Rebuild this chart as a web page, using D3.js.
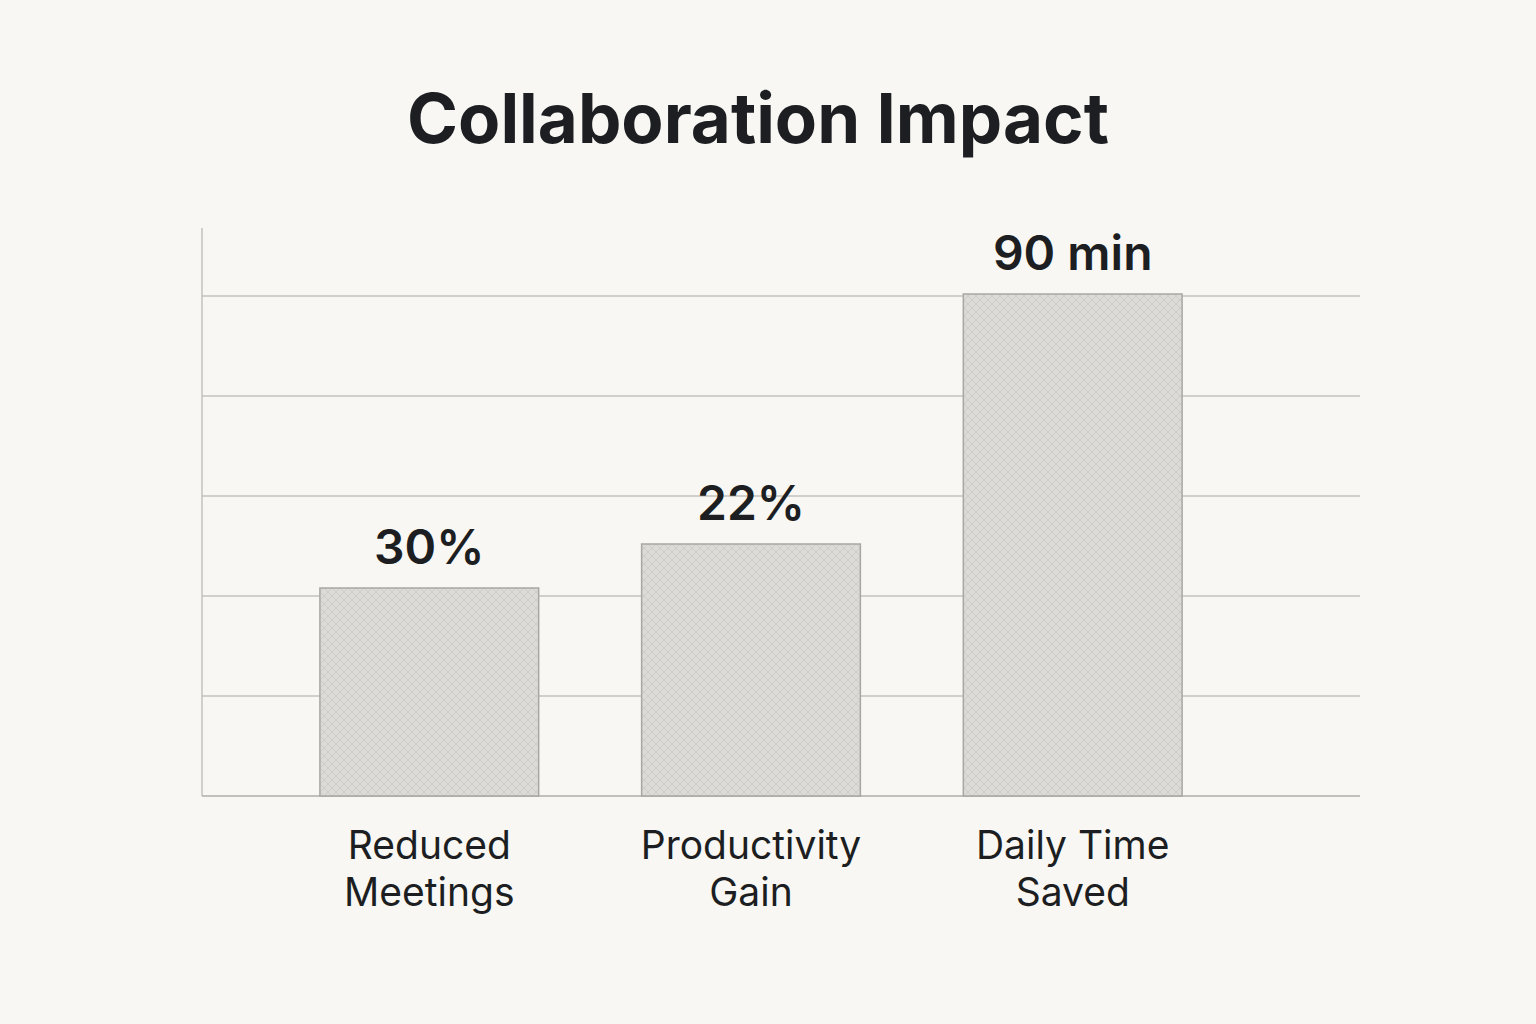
<!DOCTYPE html>
<html>
<head>
<meta charset="utf-8">
<script src="https://cdn.jsdelivr.net/npm/d3@7"></script>
<style>
  body { margin: 0; background: #f8f7f4; }
  svg { display: block; }
</style>
</head>
<body>
<div id="chart"></div>
<script>
// categories and values
const categories = [["Reduced", "Meetings"], ["Productivity", "Gain"], ["Daily Time", "Saved"]]
const valueLabels = ["30%", "22%", "90 min"]
// drawn bar heights in grid units (the picture does not scale them to the labels)
const barHeights = [2.08, 2.52, 5.02]
const gridTicks = [1, 2, 3, 4, 5]

const width = 1536, height = 1024
const svg = d3.select("#chart").append("svg")
    .attr("width", width).attr("height", height)
    .style("background", "#f8f7f4")

// crosshatch fill for the bars
const defs = svg.append("defs")
const pat = defs.append("pattern")
    .attr("id", "hatch").attr("patternUnits", "userSpaceOnUse")
    .attr("width", 8).attr("height", 8)
pat.append("rect").attr("width", 8).attr("height", 8).attr("fill", "#dddbd7")
pat.append("path").attr("d", "M0,0 L8,8 M8,0 L0,8")
    .attr("stroke", "#cfccc7").attr("stroke-width", 1)

const x = d3.scaleBand()
    .domain(d3.range(categories.length))
    .range([262, 1240])
    .paddingInner(0.32).paddingOuter(0.18)
const y = d3.scaleLinear().domain([0, 5.68]).range([796, 228])

// grid lines
svg.append("g")
    .selectAll("line")
    .data(gridTicks)
    .join("line")
    .attr("x1", 202).attr("x2", 1360)
    .attr("y1", d => y(d)).attr("y2", d => y(d))
    .attr("stroke", "#c4c2be").attr("stroke-width", 1.5)

// axes lines
svg.append("line").attr("x1", 202).attr("x2", 202).attr("y1", y.range()[1]).attr("y2", y(0))
    .attr("stroke", "#c4c2be").attr("stroke-width", 1.5)
svg.append("line").attr("x1", 202).attr("x2", 1360).attr("y1", y(0)).attr("y2", y(0))
    .attr("stroke", "#b0aeaa").attr("stroke-width", 1.5)

svg.append("g")
    .selectAll("rect")
    .data(barHeights)
    .join("rect")
    .attr("x", (d, i) => x(i))
    .attr("width", x.bandwidth())
    .attr("y", d => y(d))
    .attr("height", d => y(0) - y(d))
    .attr("fill", "url(#hatch)")
    .attr("stroke", "#a9a7a3").attr("stroke-width", 1.5)

svg.append("g")
    .selectAll("text")
    .data(valueLabels)
    .join("text")
    .attr("x", (d, i) => x(i) + x.bandwidth() / 2)
    .attr("y", (d, i) => y(barHeights[i]) - 24)
    .attr("text-anchor", "middle")
    .style("font-family", "Inter, 'Noto Sans', sans-serif")
    .style("font-size", "48px").style("font-weight", 600)
    .attr("fill", "#1c1e21")
    .text(d => d)

const cat = svg.append("g")
    .selectAll("text")
    .data(categories)
    .join("text")
    .attr("x", (d, i) => x(i) + x.bandwidth() / 2)
    .attr("y", 859)
    .attr("text-anchor", "middle")
    .style("font-family", "Inter, 'Noto Sans', sans-serif")
    .style("font-size", "39px")
    .attr("fill", "#1c1e21")
cat.selectAll("tspan")
    .data(d => d)
    .join("tspan")
    .attr("x", function () { return d3.select(this.parentNode).attr("x") })
    .attr("dy", (d, i) => i === 0 ? 0 : 47)
    .text(d => d)

svg.append("text")
    .attr("x", 758).attr("y", 143)
    .attr("text-anchor", "middle")
    .style("font-family", "Inter, 'Noto Sans', sans-serif")
    .style("font-size", "69px").style("font-weight", 700)
    .attr("fill", "#1c1e21")
    .text("Collaboration Impact")
</script>
</body>
</html>
